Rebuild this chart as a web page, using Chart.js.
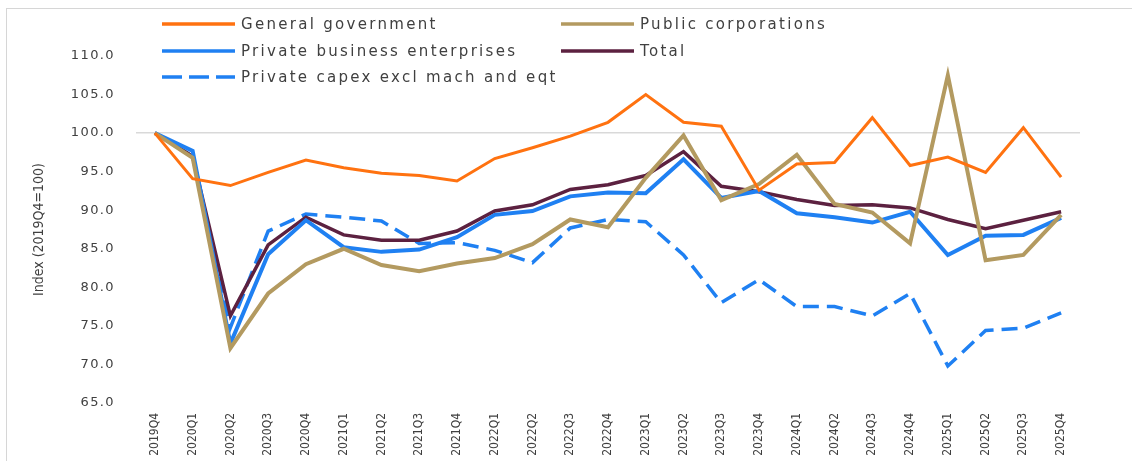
<!DOCTYPE html>
<html>
<head>
<meta charset="utf-8">
<script src="https://cdn.jsdelivr.net/npm/chart.js@4.4.1/dist/chart.umd.min.js"></script>
<style>
  html, body { margin: 0; padding: 0; background: #fff; overflow: hidden; }
  #wrap { position: relative; width: 1132px; height: 461px; }
  #frame { position: absolute; left: 6px; top: 8px; width: 1200px; height: 500px; border: 1px solid #d6d6d6; }
  #legend { position: absolute; left: 0; top: 0; }
  .item { position: absolute; height: 20px; display: flex; align-items: center;
          font-family: "DejaVu Sans", sans-serif; font-size: 15px; letter-spacing: 2.3px; color: #404040; white-space: nowrap; }
  .item svg { margin-right: 5px; }
  canvas { position: absolute; left: 0; top: 0; }
</style>
</head>
<body>
<div id="wrap">
  <div id="frame"></div>
  <canvas id="capexChart" width="1132" height="461"></canvas>
  <div id="legend"></div>
</div>
<script>
// Quarters
const quarters = ["2019Q4", "2020Q1", "2020Q2", "2020Q3", "2020Q4", "2021Q1", "2021Q2", "2021Q3", "2021Q4",
    "2022Q1", "2022Q2", "2022Q3", "2022Q4", "2023Q1", "2023Q2", "2023Q3", "2023Q4",
    "2024Q1", "2024Q2", "2024Q3", "2024Q4", "2025Q1", "2025Q2", "2025Q3", "2025Q4"];

// Index values (2019Q4=100)
const generalGovernment = [100, 94.1, 93.2, 94.9, 96.5, 95.5, 94.8, 94.5, 93.8, 96.7, 98.1, 99.6, 101.4,
    105.0, 101.4, 100.9, 92.6, 96.0, 96.2, 102.0, 95.8, 96.9, 94.9, 100.7, 94.3];
const publicCorporations = [100, 96.8, 72.1, 79.2, 83.0, 85.0, 82.9, 82.1, 83.1, 83.8, 85.6, 88.8, 87.8,
    94.2, 99.7, 91.3, 93.4, 97.2, 90.8, 89.7, 85.7, 107.5, 83.5, 84.2, 89.4];
const privateBusiness = [100, 97.7, 72.7, 84.3, 88.7, 85.2, 84.6, 84.9, 86.5, 89.4, 89.9, 91.8, 92.3,
    92.2, 96.6, 91.6, 92.5, 89.6, 89.1, 88.4, 89.8, 84.2, 86.7, 86.8, 89.0];
const total = [100, 97.0, 76.3, 85.5, 89.1, 86.8, 86.1, 86.1, 87.3, 89.9, 90.7, 92.7, 93.3,
    94.5, 97.6, 93.1, 92.4, 91.4, 90.6, 90.7, 90.3, 88.8, 87.6, 88.7, 89.8];
const privateCapexExMachinery = [100, 97.0, 74.8, 87.3, 89.5, 89.1, 88.6, 85.7, 85.8, 84.8, 83.2, 87.7, 88.8,
    88.5, 84.2, 78.0, 81.0, 77.5, 77.5, 76.3, 79.2, 69.8, 74.4, 74.7, 76.7];

const yTicks = [65, 70, 75, 80, 85, 90, 95, 100, 105, 110];

const series = [
    { label: "General government", data: generalGovernment, color: "#ff7210", width: 3, dash: [] },
    { label: "Public corporations", data: publicCorporations, color: "#b39a60", width: 4, dash: [] },
    { label: "Private business enterprises", data: privateBusiness, color: "#1f80f2", width: 4, dash: [] },
    { label: "Total", data: total, color: "#5c2140", width: 3.5, dash: [] },
    { label: "Private capex excl mach and eqt", data: privateCapexExMachinery, color: "#1f80f2", width: 3.5, dash: [16, 8] }
];

// legend slots (two columns, like the original)
const legendSlots = [
    { x: 162, y: 14 }, { x: 561, y: 14 },
    { x: 162, y: 41 }, { x: 561, y: 41 },
    { x: 162, y: 67 }
];

const legendEl = document.getElementById("legend");
series.forEach((s, i) => {
    const slot = legendSlots[i];
    const div = document.createElement("div");
    div.className = "item";
    div.style.left = slot.x + "px";
    div.style.top = slot.y + "px";
    div.innerHTML = `<svg width="74" height="8"><line x1="0" y1="4" x2="73" y2="4" stroke="${s.color}"
        stroke-width="3.5" stroke-dasharray="${s.dash.length ? "20,7" : "none"}"/></svg><span>${s.label}</span>`;
    legendEl.appendChild(div);
});

// y tick labels in the original are widely spaced
const spacedYLabels = {
    id: "spacedYLabels",
    beforeDraw(chart) {
        const ys = chart.scales.y;
        if (ys && !ys._spaced) {
            const orig = ys.drawLabels.bind(ys);
            ys.drawLabels = function (area) {
                chart.ctx.save();
                chart.ctx.letterSpacing = "1.4px";
                orig(area);
                chart.ctx.restore();
            };
            ys._spaced = true;
        }
    }
};

const ctx = document.getElementById("capexChart").getContext("2d");
new Chart(ctx, {
    type: "line",
    data: {
        labels: quarters,
        datasets: series.map(s => ({
            label: s.label,
            data: s.data,
            borderColor: s.color,
            backgroundColor: s.color,
            borderWidth: s.width,
            borderDash: s.dash,
            pointRadius: 0,
            tension: 0,
            fill: false
        }))
    },
    options: {
        responsive: false,
        animation: false,
        layout: { padding: { top: 56, right: 52, left: 0, bottom: 0 } },
        plugins: { legend: { display: false }, tooltip: { enabled: false } },
        scales: {
            x: {
                offset: true,
                grid: { display: false, drawTicks: false },
                border: { display: false },
                ticks: {
                    autoSkip: false,
                    minRotation: 90,
                    maxRotation: 90,
                    padding: 10,
                    color: "#404040",
                    font: { family: "'DejaVu Sans Condensed', 'DejaVu Sans'", size: 12 }
                },
                afterFit: scale => { scale.height = 58; }
            },
            y: {
                min: 65,
                max: 110,
                afterBuildTicks: scale => { scale.ticks = yTicks.map(v => ({ value: v })); },
                grid: {
                    drawTicks: false,
                    lineWidth: 1.5,
                    color: c => (c.tick && c.tick.value === 100 ? "#d9d9d9" : "rgba(0,0,0,0)")
                },
                border: { display: false },
                ticks: {
                    padding: 21,
                    color: "#404040",
                    font: { family: "'DejaVu Sans'", size: 13 },
                    callback: v => Number(v).toFixed(1)
                },
                title: {
                    display: true,
                    text: "Index (2019Q4=100)",
                    color: "#404040",
                    padding: { top: 31, bottom: 0 },
                    font: { family: "'Liberation Sans Narrow', 'DejaVu Sans Condensed'", size: 14 }
                },
                afterFit: scale => { scale.width = 136; }
            }
        }
    },
    plugins: [spacedYLabels]
});
</script>
</body>
</html>
